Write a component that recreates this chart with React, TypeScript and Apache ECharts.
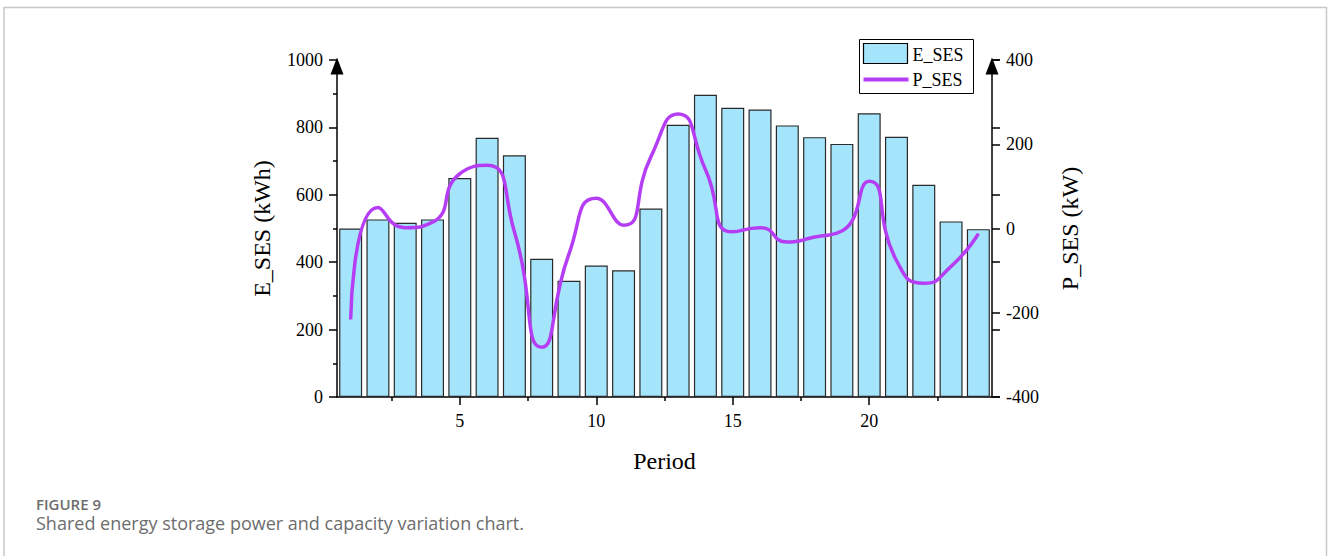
import React, { useEffect, useRef } from "react";
import * as echarts from "echarts";

// Hourly periods 1..24
const periods: number[] = [
  1, 2, 3, 4, 5, 6, 7, 8, 9, 10, 11, 12, 13, 14, 15, 16, 17, 18, 19, 20, 21, 22, 23, 24,
];

// Stored energy of the shared storage (kWh)
const eSes: number[] = [
  500, 527, 517, 527, 650, 769, 717, 410, 345, 390, 376, 559, 808, 897, 858, 853, 806, 771,
  751, 842, 772, 630, 521, 498,
];

// Charging / discharging power of the shared storage (kW)
const pSes: number[] = [
  -216, 50, 2, 15, 130, 150, -8, -282, -60, 72, 8, 170, 272, 140, -8, 2, -32, -20, -6, 112,
  -76, -130, -90, -12,
];

const xLabelTicks: number[] = [5, 10, 15, 20];
const xMinorTicks: number[] = [2.5, 7.5, 12.5, 17.5, 22.5];

const BAR_FILL = "#a5e5fb";
const LINE_COLOR = "#b53ef5";
const SERIF = "'Liberation Serif', 'Times New Roman', serif";
const SANS = "'Open Sans', 'Noto Sans', sans-serif";

export default function App() {
  const ref = useRef<HTMLDivElement | null>(null);

  useEffect(() => {
    if (!ref.current) return;
    const chart = echarts.init(ref.current, undefined, { renderer: "svg" });

    const axisLine = {
      show: true,
      onZero: false,
      lineStyle: { color: "#000", width: 1.5 },
    };
    const arrowLine = {
      ...axisLine,
      symbol: ["none", "triangle"],
      symbolSize: [13, 17],
      symbolOffset: [0, -6],
    };
    const tickStyle = { color: "#000", width: 1.5 };
    const plain = (v: number) => String(v);

    const option: any = {
      animation: false,
      backgroundColor: "#fff",
      grid: { left: 337, right: 336, top: 60, bottom: 159, containLabel: false },
      xAxis: [
        {
          type: "value",
          min: 0.5,
          max: 24.5,
          position: "bottom",
          name: "Period",
          nameLocation: "middle",
          nameGap: 52,
          nameTextStyle: { fontFamily: SERIF, fontSize: 24, color: "#000" },
          axisLine,
          axisTick: {
            show: true,
            inside: false,
            length: 8,
            customValues: xLabelTicks,
            lineStyle: tickStyle,
          },
          axisLabel: {
            show: true,
            customValues: xLabelTicks,
            margin: 15,
            fontFamily: SERIF,
            fontSize: 18,
            color: "#000",
            formatter: plain,
          },
          splitLine: { show: false },
        },
        {
          type: "value",
          min: 0.5,
          max: 24.5,
          position: "bottom",
          axisLine: { show: false, onZero: false },
          axisTick: {
            show: true,
            inside: false,
            length: 4,
            customValues: xMinorTicks,
            lineStyle: tickStyle,
          },
          axisLabel: { show: false },
          splitLine: { show: false },
        },
      ],
      yAxis: [
        {
          type: "value",
          min: 0,
          max: 1000,
          interval: 200,
          position: "left",
          name: "E_SES (kWh)",
          nameLocation: "middle",
          nameGap: 63,
          nameTextStyle: { fontFamily: SERIF, fontSize: 24, color: "#000" },
          axisLine: arrowLine,
          axisTick: { show: true, inside: false, length: 8, lineStyle: tickStyle },
          minorTick: { show: true, splitNumber: 2, length: 4, lineStyle: tickStyle },
          axisLabel: { margin: 14, fontFamily: SERIF, fontSize: 18, color: "#000", formatter: plain },
          splitLine: { show: false },
        },
        {
          type: "value",
          min: -400,
          max: 400,
          interval: 200,
          position: "right",
          name: "P_SES (kW)",
          nameLocation: "middle",
          nameGap: 66,
          nameTextStyle: { fontFamily: SERIF, fontSize: 24, color: "#000" },
          axisLine: arrowLine,
          axisTick: { show: true, inside: false, length: 8, lineStyle: tickStyle },
          axisLabel: { margin: 14, fontFamily: SERIF, fontSize: 18, color: "#000", formatter: plain },
          splitLine: { show: false },
        },
        {
          // extra tick marks on the right spine at the left-scale positions
          type: "value",
          min: 0,
          max: 1000,
          interval: 200,
          position: "right",
          axisLine: { show: false, onZero: false },
          axisTick: { show: true, inside: false, length: 8, lineStyle: tickStyle },
          axisLabel: { show: false },
          splitLine: { show: false },
        },
      ],
      series: [
        {
          name: "E_SES",
          type: "bar",
          xAxisIndex: 0,
          yAxisIndex: 0,
          barWidth: 23,
          data: periods.map((p, i) => [p, eSes[i]]),
          itemStyle: { color: BAR_FILL, borderColor: "#2a2a2a", borderWidth: 1.2 },
          z: 2,
        },
        {
          name: "P_SES",
          type: "line",
          xAxisIndex: 0,
          yAxisIndex: 1,
          smooth: 0.6,
          symbol: "none",
          showSymbol: false,
          data: periods.map((p, i) => [p, pSes[i]]),
          lineStyle: { color: LINE_COLOR, width: 3.5 },
          itemStyle: { color: LINE_COLOR },
          z: 3,
        },
      ],
      graphic: [
        // card outline
        {
          type: "polyline",
          shape: { points: [[4, 560], [4, 7.5], [1326.5, 7.5], [1326.5, 560]] },
          style: { stroke: "#c8c8c8", lineWidth: 1.5, fill: "none" },
          silent: true,
        },
        // legend box
        {
          type: "group",
          x: 859.5,
          y: 39.5,
          children: [
            {
              type: "rect",
              shape: { x: 0, y: 0, width: 114, height: 54 },
              style: { fill: "#fff", stroke: "#000", lineWidth: 1 },
            },
            {
              type: "rect",
              shape: { x: 4, y: 4, width: 44, height: 20 },
              style: { fill: BAR_FILL, stroke: "#000", lineWidth: 1.2 },
            },
            {
              type: "text",
              x: 53,
              y: 15,
              style: {
                text: "E_SES",
                font: `18px ${SERIF}`,
                fill: "#000",
                verticalAlign: "middle",
              },
            },
            {
              type: "line",
              shape: { x1: 4, y1: 40, x2: 49, y2: 40 },
              style: { stroke: LINE_COLOR, lineWidth: 4 },
            },
            {
              type: "text",
              x: 53,
              y: 40,
              style: {
                text: "P_SES",
                font: `18px ${SERIF}`,
                fill: "#000",
                verticalAlign: "middle",
              },
            },
          ],
        },
        {
          type: "text",
          left: 36,
          top: 496,
          style: {
            text: "FIGURE 9",
            font: `600 15px ${SANS}`,
            fill: "#6d6d6d",
          },
        },
        {
          type: "text",
          left: 36,
          top: 514,
          style: {
            text: "Shared energy storage power and capacity variation chart.",
            font: `400 18px ${SANS}`,
            fill: "#6d6d6d",
          },
        },
      ],
    };

    chart.setOption(option);
    return () => {
      chart.dispose();
    };
  }, []);

  return (
    <div
      ref={ref}
      style={{ position: "fixed", left: 0, top: 0, width: 1328, height: 556, background: "#fff" }}
    />
  );
}
